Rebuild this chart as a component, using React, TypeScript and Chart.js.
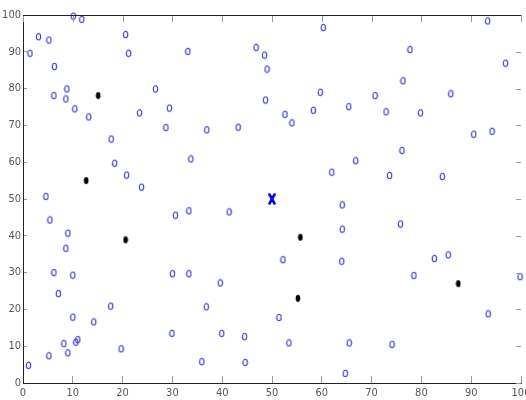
import React, { useEffect, useRef } from "react";
import { Chart, registerables } from "chart.js";

Chart.register(...registerables);

const blueX = [10.1, 11.8, 1.4, 3.1, 5.2, 6.3, 6.2, 8.6, 8.8, 10.4, 13.2, 20.6, 21.2, 26.6, 29.4, 28.7, 23.4, 17.7, 18.4, 20.8, 23.8, 4.6, 60.3, 33.1, 46.8, 48.5, 49.0, 59.7, 48.7, 52.6, 54.0, 58.3, 36.9, 43.2, 33.7, 62.0, 93.3, 77.7, 96.9, 76.3, 70.7, 85.9, 65.4, 72.9, 79.8, 90.5, 94.2, 76.1, 66.8, 73.6, 84.2, 5.4, 9.0, 8.6, 6.2, 10.0, 7.1, 17.6, 10.0, 14.2, 8.2, 10.6, 11.0, 9.0, 5.2, 1.1, 19.7, 30.6, 30.0, 29.9, 33.3, 41.4, 64.1, 64.1, 52.2, 64.0, 33.3, 39.6, 36.8, 51.4, 39.9, 44.5, 53.4, 35.9, 44.6, 64.7, 75.8, 82.6, 85.4, 78.5, 99.8, 93.4, 65.5, 74.1];
const blueY = [99.7, 98.8, 89.6, 94.1, 93.2, 86.0, 78.1, 77.2, 79.9, 74.5, 72.3, 94.7, 89.6, 79.9, 74.7, 69.4, 73.4, 66.3, 59.7, 56.5, 53.2, 50.7, 96.6, 90.1, 91.2, 89.1, 85.3, 79.0, 76.9, 73.0, 70.7, 74.1, 68.8, 69.5, 60.9, 57.3, 98.4, 90.6, 86.9, 82.1, 78.1, 78.6, 75.1, 73.7, 73.4, 67.6, 68.4, 63.2, 60.4, 56.4, 56.1, 44.3, 40.7, 36.6, 30.0, 29.3, 24.3, 20.9, 17.9, 16.6, 10.7, 11.1, 11.8, 8.2, 7.4, 4.8, 9.3, 45.6, 29.7, 13.5, 46.8, 46.5, 48.4, 41.8, 33.5, 33.1, 29.7, 27.2, 20.7, 17.8, 13.5, 12.6, 10.9, 5.8, 5.6, 2.6, 43.2, 33.8, 34.8, 29.2, 28.9, 18.8, 10.9, 10.5];

const blackX = [15.1, 12.7, 20.6, 55.7, 55.2, 87.4];
const blackY = [78.1, 55.0, 38.9, 39.6, 23.0, 27.0];

const centerX = [50];
const centerY = [50];

const axisMin = 0;
const axisMax = 100;
const axisStep = 10;

const FONT = "'Liberation Sans Narrow', 'DejaVu Sans Condensed', 'Liberation Sans', sans-serif";

function makeCanvas(w: number, h: number, draw: (c: CanvasRenderingContext2D) => void) {
  const cv = document.createElement("canvas");
  cv.width = w;
  cv.height = h;
  const c = cv.getContext("2d")!;
  draw(c);
  return cv;
}

export default function App() {
  const ref = useRef<HTMLCanvasElement>(null);

  useEffect(() => {
    document.body.style.margin = "0";
    const ring = makeCanvas(7, 9, (c) => {
      c.strokeStyle = "#3a3ad6";
      c.lineWidth = 1.1;
      c.beginPath();
      c.ellipse(3.5, 4.5, 2.2, 3.2, 0, 0, Math.PI * 2);
      c.stroke();
    });
    const dot = makeCanvas(6, 9, (c) => {
      c.fillStyle = "#000";
      c.beginPath();
      c.ellipse(3, 4.5, 2.3, 3.4, 0, 0, Math.PI * 2);
      c.fill();
    });
    const cross = makeCanvas(8, 12, (c) => {
      c.strokeStyle = "#0000ff";
      c.lineWidth = 2.6;
      c.lineCap = "round";
      c.beginPath();
      c.moveTo(1.5, 1.5);
      c.lineTo(6.5, 10.5);
      c.moveTo(6.5, 1.5);
      c.lineTo(1.5, 10.5);
      c.stroke();
    });

    const frame = {
      id: "matlabFrame",
      afterDraw(chart: any) {
        const ctx = chart.ctx;
        const a = chart.chartArea;
        const xs = chart.scales.x;
        const ys = chart.scales.y;
        ctx.save();
        ctx.lineWidth = 1;
        ctx.strokeStyle = "#9a9a9a";
        for (let v = axisMin; v <= axisMax; v += axisStep) {
          const px = Math.round(xs.getPixelForValue(v)) + 0.5;
          ctx.beginPath();
          ctx.moveTo(px, a.top);
          ctx.lineTo(px, a.top + 7);
          ctx.stroke();
          const py = Math.round(ys.getPixelForValue(v)) + 0.5;
          ctx.beginPath();
          ctx.moveTo(a.right, py);
          ctx.lineTo(a.right - 5, py);
          ctx.stroke();
        }
        const t = Math.round(a.top) + 0.5;
        ctx.strokeStyle = "#222222";
        ctx.beginPath();
        ctx.moveTo(a.left, t);
        ctx.lineTo(a.right, t);
        ctx.stroke();
        ctx.restore();
      },
    };

    const toPts = (xs: number[], ys: number[]) => xs.map((x, i) => ({ x, y: ys[i] }));

    const chart = new Chart(ref.current!, {
      type: "scatter",
      data: {
        datasets: [
          { data: toPts(blueX, blueY), pointStyle: ring as any, clip: false as any },
          { data: toPts(blackX, blackY), pointStyle: dot as any, clip: false as any },
          { data: toPts(centerX, centerY), pointStyle: cross as any, clip: false as any },
        ],
      },
      options: {
        animation: false,
        responsive: false,
        maintainAspectRatio: false,
        layout: { padding: { top: 15, right: 0, left: 0, bottom: 0 } },
        plugins: { legend: { display: false }, tooltip: { enabled: false } },
        scales: {
          x: {
            type: "linear",
            position: "bottom",
            min: axisMin,
            max: axisMax,
            border: { display: true, color: "#222", width: 1 },
            grid: { display: true, drawOnChartArea: false, drawTicks: true, tickLength: -7, color: "#9a9a9a" } as any,
            ticks: {
              stepSize: axisStep,
              padding: 11,
              color: "#555",
              maxRotation: 0,
              font: { family: FONT, size: 11 },
            },
            afterFit: (s: any) => {
              s.height = 17;
              s.paddingLeft = 0;
              s.paddingRight = 0;
            },
          },
          y: {
            type: "linear",
            position: "left",
            min: axisMin,
            max: axisMax,
            border: { display: true, color: "#222", width: 1 },
            grid: { display: true, drawOnChartArea: false, drawTicks: true, tickLength: -4, color: "#9a9a9a" } as any,
            ticks: {
              stepSize: axisStep,
              padding: 6,
              color: "#555",
              font: { family: FONT, size: 11 },
            },
            afterFit: (s: any) => {
              s.width = 23;
              s.paddingTop = 0;
              s.paddingBottom = 0;
            },
          },
        },
      },
      plugins: [frame],
    });
    return () => chart.destroy();
  }, []);

  return <canvas ref={ref} width={526} height={400} style={{ display: "block" }} />;
}
